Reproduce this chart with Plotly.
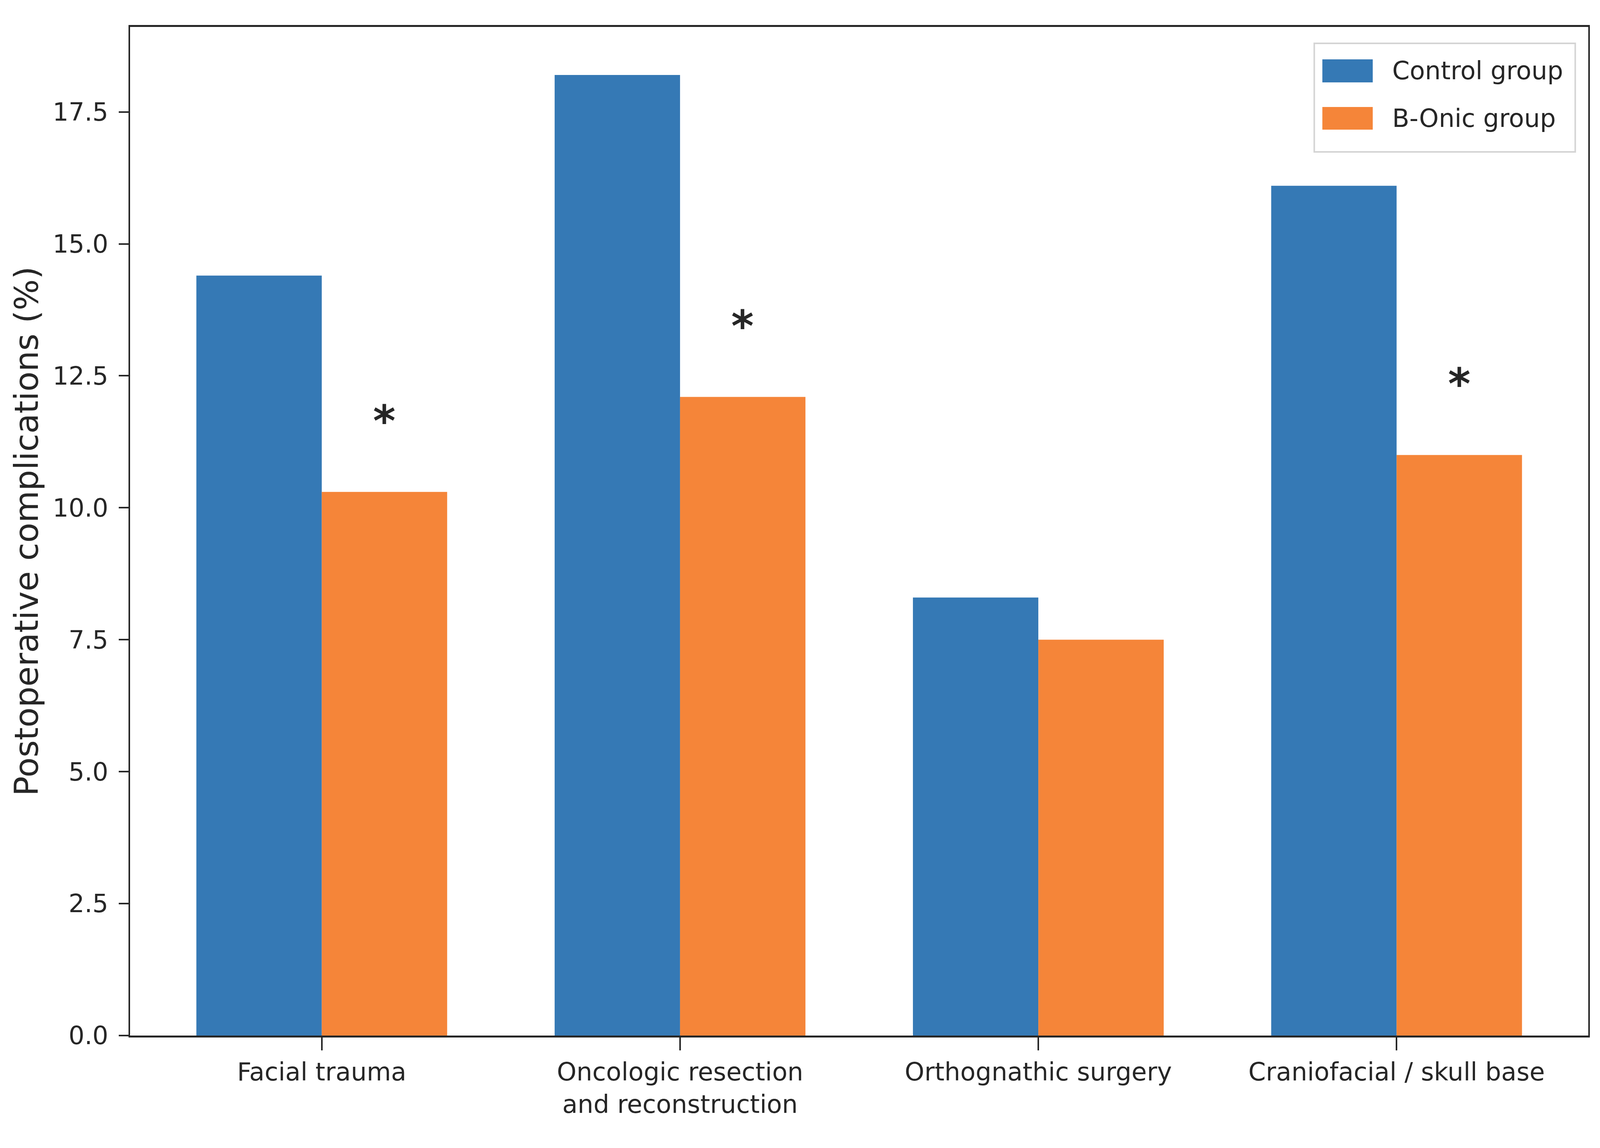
import plotly.graph_objects as go

categories = ["Facial trauma", "Oncologic resection and reconstruction",
              "Orthognathic surgery", "Craniofacial / skull base"]
tick_labels = ["Facial trauma", "Oncologic resection<br>and reconstruction",
               "Orthognathic surgery", "Craniofacial / skull base"]
control_values = [14.4, 18.2, 8.3, 16.1]
bonic_values = [10.3, 12.1, 7.5, 11.0]
significant = [True, True, False, True]
series_names = ["Control group", "B-Onic group"]
y_ticks = [0.0, 2.5, 5.0, 7.5, 10.0, 12.5, 15.0, 17.5]
y_title = "Postoperative complications (%)"

BLUE = "#3579b5"
ORANGE = "#f58539"
TXT = "#262626"
FONT = "DejaVu Sans"

# the browser window is 4096 px wide, so horizontal positions are scaled
W, H = 4096, 2940
SX = W / 5334.0
ML, MR, MT, MB = round(423 * SX), round(49 * SX), 61, 296
FS_TICK = 64
FS_TITLE = 84
FS_LEG = 64

x_idx = list(range(len(categories)))
bar_w = 0.35

fig = go.Figure()
fig.add_trace(go.Bar(x=x_idx, y=control_values, name=series_names[0],
                     marker=dict(color=BLUE, line=dict(width=0)), offset=-bar_w, width=bar_w))
fig.add_trace(go.Bar(x=x_idx, y=bonic_values, name=series_names[1],
                     marker=dict(color=ORANGE, line=dict(width=0)), offset=0.0, width=bar_w))

ymax = max(control_values) * 1.05

annotations = []
for i, (v, s) in enumerate(zip(bonic_values, significant)):
    if s:
        annotations.append(dict(x=i + bar_w / 2, y=v + 0.85, xref="x", yref="y", text="<b>*</b>",
                                showarrow=False, yanchor="bottom",
                                font=dict(family=FONT, size=110, color=TXT)))

# matplotlib-style legend drawn in paper coordinates
pw = W - ML - MR
ph = H - MT - MB
def px2x(p):
    return (p * SX - ML) / pw
def py2y(p):
    return 1 - (p - MT) / ph

shapes = [dict(type="rect", xref="paper", yref="paper",
               x0=px2x(4371), x1=px2x(5241), y0=py2y(381), y1=py2y(103),
               line=dict(color="#d4d4d4", width=4), fillcolor="rgba(255,255,255,0.85)", layer="above")]
legend_rows = [(series_names[0], BLUE, 144, 203), (series_names[1], ORANGE, 266, 324)]
for name, col, y0, y1 in legend_rows:
    shapes.append(dict(type="rect", xref="paper", yref="paper",
                       x0=px2x(4398), x1=px2x(4566), y0=py2y(y1), y1=py2y(y0),
                       line=dict(width=0), fillcolor=col, layer="above"))
    annotations.append(dict(x=px2x(4628), y=py2y((y0 + y1) / 2), xref="paper", yref="paper",
                            text=name, showarrow=False, xanchor="left", yanchor="middle",
                            font=dict(family=FONT, size=FS_LEG, color=TXT)))

fig.update_layout(
    width=W, height=H,
    margin=dict(l=ML, r=MR, t=MT, b=MB, pad=0),
    paper_bgcolor="white", plot_bgcolor="white",
    showlegend=False,
    font=dict(family=FONT, size=FS_TICK, color=TXT),
    annotations=annotations,
    shapes=shapes,
)
fig.update_xaxes(range=[-0.535, 3.535], tickmode="array", tickvals=x_idx, ticktext=tick_labels,
                 showline=True, linecolor=TXT, linewidth=5, mirror=True,
                 ticks="outside", ticklen=33, tickwidth=4, tickcolor=TXT,
                 showgrid=False, zeroline=False,
                 tickfont=dict(family=FONT, size=FS_TICK, color=TXT))
fig.update_yaxes(range=[0, ymax], tickmode="array", tickvals=y_ticks,
                 ticktext=[f"{t:.1f}" for t in y_ticks],
                 showline=True, linecolor=TXT, linewidth=4, mirror=True,
                 ticks="outside", ticklen=25, tickwidth=4, tickcolor=TXT,
                 ticklabelstandoff=14,
                 showgrid=False, zeroline=False,
                 tickfont=dict(family=FONT, size=FS_TICK, color=TXT),
                 title=dict(text=y_title, standoff=10,
                            font=dict(family=FONT, size=FS_TITLE, color=TXT)))

fig.write_html("out.html")
